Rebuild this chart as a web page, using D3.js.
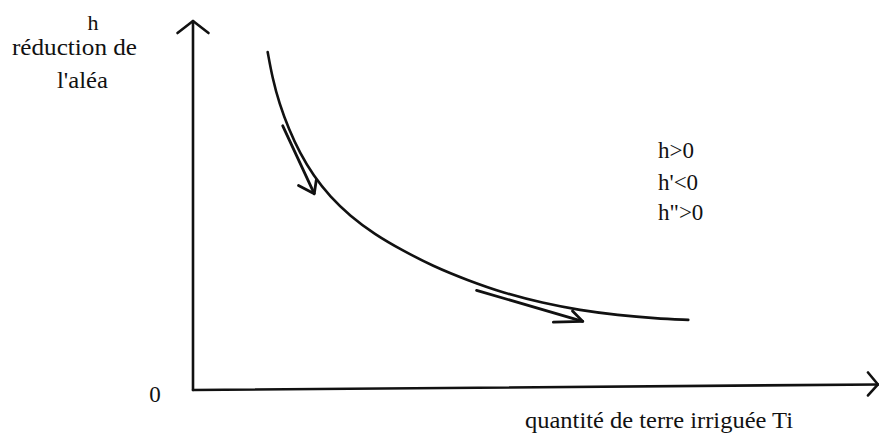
<!DOCTYPE html>
<html>
<head>
<meta charset="utf-8">
<script src="https://cdn.jsdelivr.net/npm/d3@7"></script>
<style>
  html, body { margin: 0; padding: 0; background: #fff; }
  svg { display: block; }
</style>
</head>
<body>
<svg id="chart" width="879" height="436"></svg>
<script>
// ---- data (abstract units: x = quantité de terre irriguée, y = réduction de l'aléa h) ----
const curveX = [10.9, 11.6, 12.6, 14.0, 15.6, 17.6, 20.0, 22.9, 26.5, 30.5, 35.0, 40.0, 45.5, 51.0, 56.5, 62.0, 67.5, 72.3];
const curveH = [91.6, 84.5, 77.6, 70.6, 64.2, 58.0, 52.4, 47.2, 42.2, 37.9, 33.6, 29.8, 26.2, 23.6, 21.6, 20.3, 19.4, 19.0];

// tangent arrows: shaft start, tip, and barb ends (data units)
const arrowStartX = [13.1, 41.4];
const arrowStartH = [71.6, 27.0];
const arrowTipX   = [17.7, 56.9];
const arrowTipH   = [53.2, 18.6];
const barbAX      = [15.4, 52.6];
const barbAH      = [55.4, 18.4];
const barbBX      = [18.0, 55.4];
const barbBH      = [56.9, 21.4];

const axisXMax = 100, axisHMax = 100;
const xAxisEndH = 1.5;           // scanned axis is slightly tilted
const conditions = ["h>0", "h'<0", "h\">0"];
const yLabelLines = ["h", "réduction de", "l'aléa"];
const xLabel = "quantité de terre irriguée Ti";
const originLabel = "0";

// ---- scales ----
const x = d3.scaleLinear().domain([0, axisXMax]).range([193, 878]);
const y = d3.scaleLinear().domain([0, axisHMax]).range([390, 21]);

const svg = d3.select("#chart");
const ink = "#111";
const serif = "'Liberation Serif', 'DejaVu Serif', 'Times New Roman', serif";

// ---- axes ----
const axisG = svg.append("g").attr("stroke", ink).attr("stroke-width", 2.6)
  .attr("fill", "none").attr("stroke-linecap", "round").attr("stroke-linejoin", "round");

axisG.append("line")
  .attr("x1", x(0)).attr("y1", y(0)).attr("x2", x(0)).attr("y2", y(axisHMax));
axisG.append("line")
  .attr("x1", x(0)).attr("y1", y(0)).attr("x2", x(axisXMax)).attr("y2", y(xAxisEndH));

// arrowheads
const topX = x(0), topY = y(axisHMax);
axisG.append("path")
  .attr("d", `M${topX - 15.5},${topY + 12}L${topX},${topY}L${topX + 15.5},${topY + 12}`);
const rX = x(axisXMax), rY = y(xAxisEndH);
axisG.append("path")
  .attr("d", `M${rX - 10},${rY - 12}L${rX},${rY}L${rX - 10},${rY + 11}`);

// ---- curve ----
const pts = curveX.map((v, i) => [v, curveH[i]]);
const line = d3.line().x(d => x(d[0])).y(d => y(d[1])).curve(d3.curveBasis);
svg.append("path").datum(pts)
  .attr("d", line)
  .attr("fill", "none").attr("stroke", ink).attr("stroke-width", 2.6)
  .attr("stroke-linecap", "round");

// ---- tangent arrows ----
const arrG = svg.append("g").attr("stroke", ink).attr("stroke-width", 2.8)
  .attr("fill", "none").attr("stroke-linecap", "round").attr("stroke-linejoin", "round");
arrowTipX.forEach((tx, i) => {
  arrG.append("line")
    .attr("x1", x(arrowStartX[i])).attr("y1", y(arrowStartH[i]))
    .attr("x2", x(tx)).attr("y2", y(arrowTipH[i]));
  arrG.append("path")
    .attr("d", `M${x(barbAX[i])},${y(barbAH[i])}L${x(tx)},${y(arrowTipH[i])}L${x(barbBX[i])},${y(barbBH[i])}`);
});

// ---- labels ----
const fs = 23;
const label = (t, px, py, opts = {}) => {
  const el = svg.append("text").attr("x", px).attr("y", py)
    .attr("font-family", serif).attr("font-size", opts.size || fs)
    .attr("fill", ink).text(t);
  if (opts.anchor) el.attr("text-anchor", opts.anchor);
  if (opts.len) el.attr("textLength", opts.len).attr("lengthAdjust", "spacingAndGlyphs");
  return el;
};
label(yLabelLines[0], 93, 30, { anchor: "middle", size: 22 });
label(yLabelLines[1], 12, 55, { len: 125 });
label(yLabelLines[2], 57, 88, { len: 51 });
label(originLabel, 155, 402, { anchor: "middle" });
label(xLabel, 525, 428, { len: 268 });

const condY = [158, 190, 220];
conditions.forEach((c, i) => label(c, 658, condY[i]));
</script>
</body>
</html>
